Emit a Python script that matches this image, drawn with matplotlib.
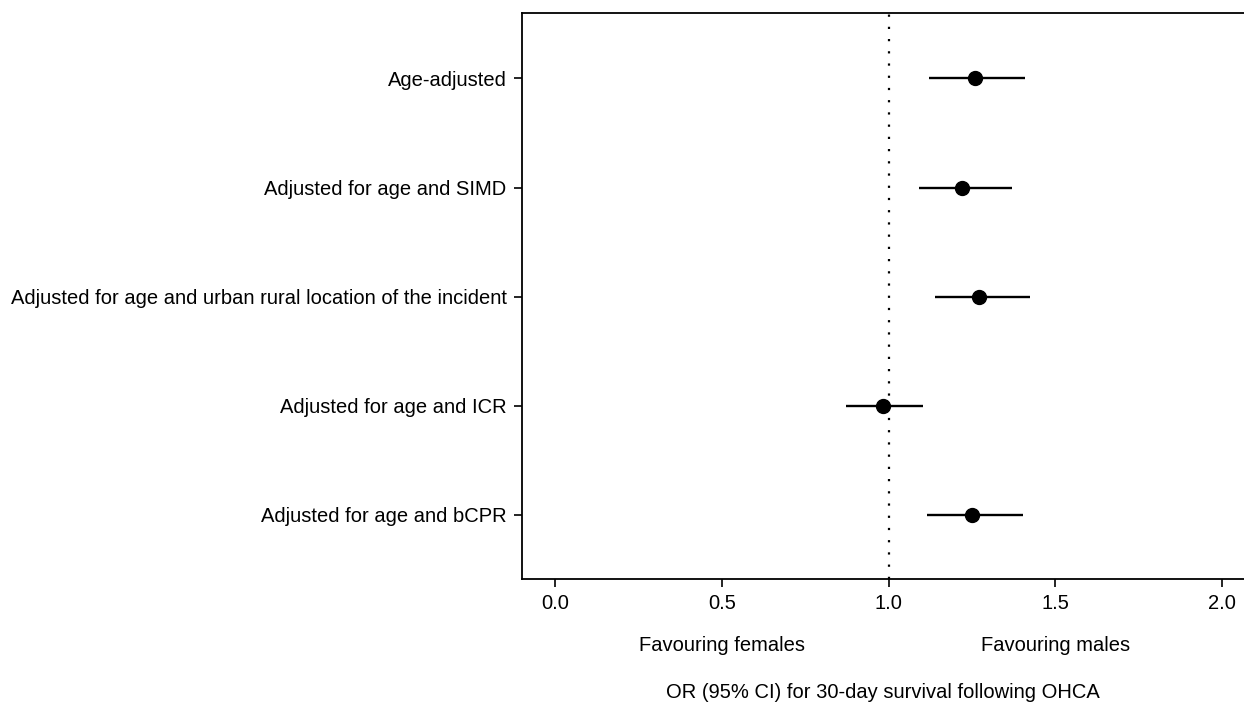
import matplotlib
matplotlib.use("Agg")
import matplotlib.pyplot as plt

LABELS = [
    "Age-adjusted",
    "Adjusted for age and SIMD",
    "Adjusted for age and urban rural location of the incident",
    "Adjusted for age and ICR",
    "Adjusted for age and bCPR",
]
OR = [1.258, 1.221, 1.270, 0.982, 1.251]
CI_LOW = [1.122, 1.092, 1.138, 0.871, 1.115]
CI_HIGH = [1.409, 1.369, 1.425, 1.103, 1.403]
X_TICKS = [0.0, 0.5, 1.0, 1.5, 2.0]

plt.rcParams["font.family"] = ["Liberation Sans", "DejaVu Sans"]
plt.rcParams["font.size"] = 14.5


def main():
    fig = plt.figure(figsize=(12.44, 7.08), dpi=100)
    ax = fig.add_axes([522 / 1244, 1 - 579 / 708, 1 - 522 / 1244, (579 - 13) / 708])

    n = len(LABELS)
    ypos = list(range(n, 0, -1))

    ax.axvline(1.0, color="black", linestyle=(0, (1, 4.5)), linewidth=1.6, zorder=1)
    ax.hlines(ypos, CI_LOW, CI_HIGH, color="black", linewidth=1.7, zorder=2)
    ax.plot(OR, ypos, "o", color="black", markersize=10, zorder=3)

    ax.set_xlim(-0.1, 2.066)
    ax.set_ylim(0.413, 5.6)
    ax.set_yticks(ypos)
    ax.set_yticklabels(LABELS)
    ax.set_xticks(X_TICKS)
    ax.set_xticklabels([f"{v:.1f}" for v in X_TICKS])
    ax.tick_params(axis="both", length=6, width=1.2, pad=5)
    ax.spines["right"].set_visible(False)
    for side in ["left", "top", "bottom"]:
        ax.spines[side].set_linewidth(1.3)

    ax.text(0.5, -0.118, "Favouring females", transform=ax.get_xaxis_transform(), ha="center", va="center")
    ax.text(1.5, -0.118, "Favouring males", transform=ax.get_xaxis_transform(), ha="center", va="center")
    ax.text(0.5, -0.2, "OR (95% CI) for 30-day survival following OHCA", transform=ax.transAxes,
            ha="center", va="center")

    fig.savefig("out.png", dpi=100)
    plt.close(fig)


if __name__ == "__main__":
    main()
